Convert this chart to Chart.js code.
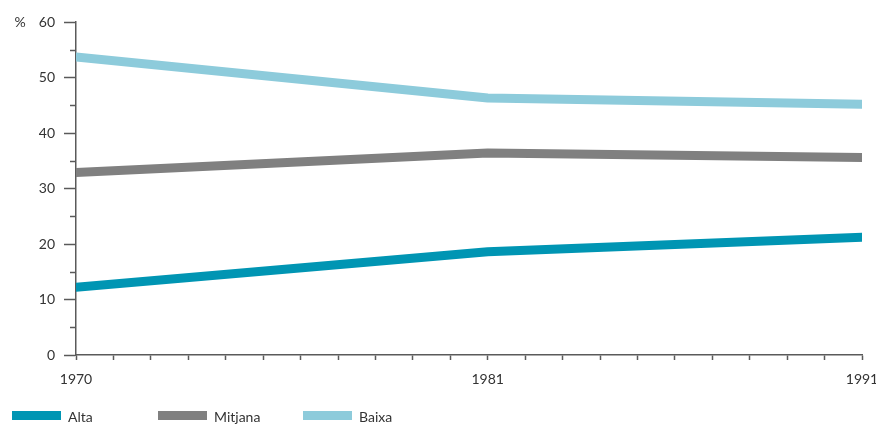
<!DOCTYPE html>
<html>
<head>
<meta charset="utf-8">
<script src="https://cdn.jsdelivr.net/npm/chart.js@4"></script>
<style>
  html, body { margin: 0; padding: 0; background: #fff; }
  #wrap { position: relative; width: 876px; height: 425px; }
  #legenda { position: absolute; left: 0; top: 0; width: 876px; height: 425px; pointer-events: none; font-family: Lato, "Open Sans", sans-serif; font-size: 14px; color: #333; }
  .item { position: absolute; top: 408px; height: 16px; line-height: 16px; white-space: nowrap; }
  .caixa { position: absolute; top: 3px; left: 0; width: 49px; height: 9px; }
  .texto { position: absolute; left: 56px; top: 1px; }
</style>
</head>
<body>
<div id="wrap">
  <canvas id="grafico" width="876" height="425"></canvas>
  <div id="legenda"></div>
</div>
<script>
// Anos e percentuais
const anos = [1970, 1981, 1991];
const alta = [12.2, 18.6, 21.2];
const mitjana = [32.9, 36.4, 35.6];
const baixa = [53.7, 46.3, 45.2];
const nomesSeries = ['Alta', 'Mitjana', 'Baixa'];
const coresSeries = ['#0095b3', '#808080', '#8dcbdb'];
const valoresSeries = [alta, mitjana, baixa];

const corEixo = '#5a5a5a';
const corTexto = '#333333';
const fonte = { family: 'Lato, "Open Sans", sans-serif', size: 14 };

function montaPontos(valores) {
    return anos.map((ano, i) => ({ x: ano, y: valores[i] }));
}

const dataSet = valoresSeries.map((valores, i) => ({
    label: nomesSeries[i],
    data: montaPontos(valores),
    borderColor: coresSeries[i],
    backgroundColor: coresSeries[i],
    borderWidth: 9,
    borderCapStyle: 'round',
    borderJoinStyle: 'round',
    pointRadius: 0,
    tension: 0,
    fill: false
}));

// Plugin para os ticks menores do eixo Y e o simbolo de %
const extrasEixo = {
    id: 'extrasEixo',
    afterDraw(chart) {
        const ctx = chart.ctx;
        const y = chart.scales.y;
        ctx.save();
        ctx.strokeStyle = corEixo;
        ctx.lineWidth = 1.5;
        for (let v = 5; v < 60; v += 10) {
            const py = Math.round(y.getPixelForValue(v)) + 0.5;
            ctx.beginPath();
            ctx.moveTo(y.right - 6, py);
            ctx.lineTo(y.right, py);
            ctx.stroke();
        }
        ctx.fillStyle = corTexto;
        ctx.font = '14px Lato, "Open Sans", sans-serif';
        ctx.textAlign = 'center';
        ctx.textBaseline = 'middle';
        ctx.fillText('%', 20, y.getPixelForValue(60));
        ctx.restore();
    }
};

const config = {
    type: 'line',
    data: { datasets: dataSet },
    options: {
        responsive: false,
        animation: false,
        layout: { padding: { top: 22, right: 14, bottom: 0, left: 0 } },
        plugins: { legend: { display: false }, tooltip: { enabled: false } },
        scales: {
            x: {
                type: 'linear',
                min: 1970,
                max: 1991,
                border: { color: corEixo, width: 1.5 },
                grid: { drawOnChartArea: false, drawTicks: true, tickLength: 5, tickColor: corEixo, tickWidth: 1.5 },
                ticks: {
                    stepSize: 1,
                    autoSkip: false,
                    maxRotation: 0,
                    padding: 11,
                    color: corTexto,
                    font: fonte,
                    callback: (v) => anos.includes(v) ? String(v) : ''
                },
                afterFit(scale) {
                    scale.height = 70;
                    scale.paddingLeft = 0;
                    scale.paddingRight = 0;
                }
            },
            y: {
                min: 0,
                max: 60,
                border: { color: corEixo, width: 1.5 },
                grid: {
                    drawOnChartArea: false,
                    drawTicks: true,
                    tickLength: 12,
                    tickWidth: 1.5,
                    tickColor: (c) => (c.tick && c.tick.value % 10 === 0) ? corEixo : 'rgba(0,0,0,0)'
                },
                ticks: {
                    stepSize: 5,
                    padding: 9,
                    color: corTexto,
                    font: fonte,
                    callback: (v) => v % 10 === 0 ? String(v) : ''
                },
                afterFit(scale) {
                    scale.width = 76;
                }
            }
        }
    },
    plugins: [extrasEixo]
};

const myChart = new Chart(document.getElementById('grafico'), config);

// Legenda em HTML, posicoes fixas como no original
const legenda = document.getElementById('legenda');
const posLegenda = [12, 158, 303];
dataSet.forEach((ds, i) => {
    const item = document.createElement('div');
    item.className = 'item';
    item.style.left = posLegenda[i] + 'px';
    item.innerHTML = '<span class="caixa" style="background:' + ds.borderColor + '"></span><span class="texto">' + ds.label + '</span>';
    legenda.appendChild(item);
});
</script>
</body>
</html>
